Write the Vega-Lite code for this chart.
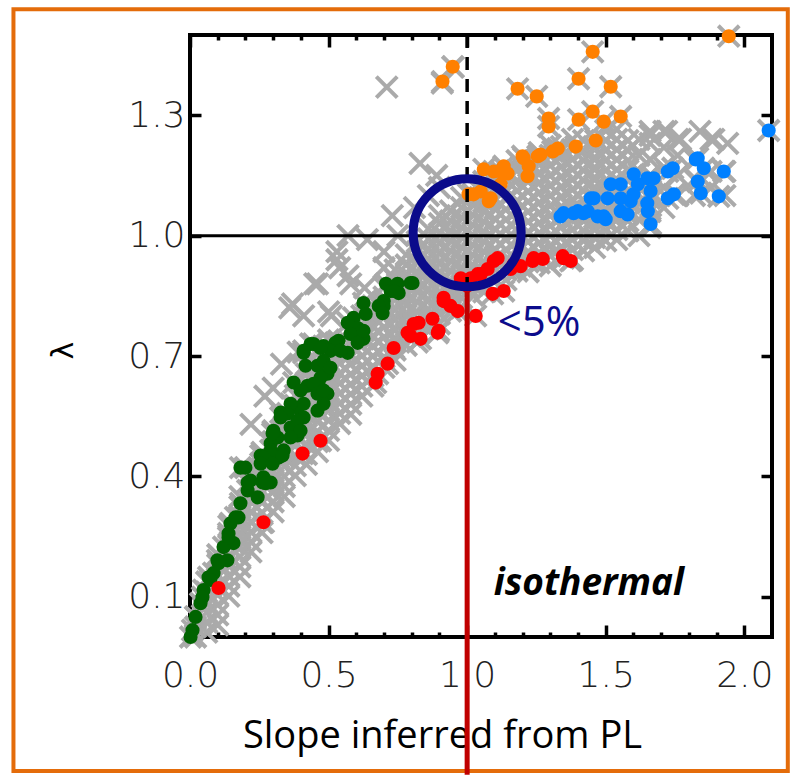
{
"$schema":"https://vega.github.io/schema/vega-lite/v6.json",
"width":582,"height":602,
"autosize":{"type":"none"},
"padding":{"left":190,"top":35,"right":20,"bottom":138},
"background":"white",
"config":{"view":{"stroke":"black","strokeWidth":4},
"axis":{"domain":false,"grid":false,"tickColor":"black","tickWidth":3.5,"labelFont":"DejaVu Sans","labelFontWeight":200,"labelFontSize":36,"labelColor":"#222222","titleFont":"Open Sans","titleFontWeight":"normal","titleColor":"black"}},
"datasets":{
"frame":[{"x":-0.637,"x2":2.157,"y":1.564,"y2":-0.334}],
"pts":[
{"x":0.02,"y":0},{"x":0.02,"y":0.025},{"x":0.02,"y":0.05},
{"x":0.06,"y":0.012},{"x":0.06,"y":0.037},{"x":0.06,"y":0.062},{"x":0.06,"y":0.087},{"x":0.06,"y":0.112},{"x":0.06,"y":0.137},
{"x":0.10,"y":0.03},{"x":0.10,"y":0.055},{"x":0.10,"y":0.08},{"x":0.10,"y":0.105},{"x":0.10,"y":0.13},{"x":0.10,"y":0.155},{"x":0.10,"y":0.18},{"x":0.10,"y":0.205},
{"x":0.14,"y":0.102},{"x":0.14,"y":0.127},{"x":0.14,"y":0.152},{"x":0.14,"y":0.177},{"x":0.14,"y":0.202},{"x":0.14,"y":0.227},{"x":0.14,"y":0.252},{"x":0.14,"y":0.277},
{"x":0.18,"y":0.15},{"x":0.18,"y":0.175},{"x":0.18,"y":0.2},{"x":0.18,"y":0.225},{"x":0.18,"y":0.25},{"x":0.18,"y":0.275},{"x":0.18,"y":0.3},{"x":0.18,"y":0.325},{"x":0.18,"y":0.35},
{"x":0.22,"y":0.212},{"x":0.22,"y":0.237},{"x":0.22,"y":0.262},{"x":0.22,"y":0.287},{"x":0.22,"y":0.312},{"x":0.22,"y":0.337},{"x":0.22,"y":0.362},{"x":0.22,"y":0.387},{"x":0.22,"y":0.412},
{"x":0.26,"y":0.26},{"x":0.26,"y":0.285},{"x":0.26,"y":0.31},{"x":0.26,"y":0.335},{"x":0.26,"y":0.36},{"x":0.26,"y":0.385},{"x":0.26,"y":0.41},{"x":0.26,"y":0.435},{"x":0.26,"y":0.46},
{"x":0.30,"y":0.312},{"x":0.30,"y":0.337},{"x":0.30,"y":0.362},{"x":0.30,"y":0.387},{"x":0.30,"y":0.412},{"x":0.30,"y":0.437},{"x":0.30,"y":0.462},{"x":0.30,"y":0.487},{"x":0.30,"y":0.512},
{"x":0.34,"y":0.35},{"x":0.34,"y":0.375},{"x":0.34,"y":0.4},{"x":0.34,"y":0.425},{"x":0.34,"y":0.45},{"x":0.34,"y":0.475},{"x":0.34,"y":0.5},{"x":0.34,"y":0.525},{"x":0.34,"y":0.55},
{"x":0.38,"y":0.402},{"x":0.38,"y":0.427},{"x":0.38,"y":0.452},{"x":0.38,"y":0.477},{"x":0.38,"y":0.502},{"x":0.38,"y":0.527},{"x":0.38,"y":0.552},{"x":0.38,"y":0.577},{"x":0.38,"y":0.602},
{"x":0.42,"y":0.43},{"x":0.42,"y":0.455},{"x":0.42,"y":0.48},{"x":0.42,"y":0.505},{"x":0.42,"y":0.53},{"x":0.42,"y":0.555},{"x":0.42,"y":0.58},{"x":0.42,"y":0.605},{"x":0.42,"y":0.63},{"x":0.42,"y":0.655},{"x":0.42,"y":0.68},
{"x":0.46,"y":0.462},{"x":0.46,"y":0.487},{"x":0.46,"y":0.512},{"x":0.46,"y":0.537},{"x":0.46,"y":0.562},{"x":0.46,"y":0.587},{"x":0.46,"y":0.612},{"x":0.46,"y":0.637},{"x":0.46,"y":0.662},{"x":0.46,"y":0.687},{"x":0.46,"y":0.712},
{"x":0.50,"y":0.49},{"x":0.50,"y":0.515},{"x":0.50,"y":0.54},{"x":0.50,"y":0.565},{"x":0.50,"y":0.59},{"x":0.50,"y":0.615},{"x":0.50,"y":0.64},{"x":0.50,"y":0.665},{"x":0.50,"y":0.69},{"x":0.50,"y":0.715},{"x":0.50,"y":0.74},
{"x":0.54,"y":0.532},{"x":0.54,"y":0.557},{"x":0.54,"y":0.582},{"x":0.54,"y":0.607},{"x":0.54,"y":0.632},{"x":0.54,"y":0.657},{"x":0.54,"y":0.682},{"x":0.54,"y":0.707},{"x":0.54,"y":0.732},
{"x":0.58,"y":0.555},{"x":0.58,"y":0.58},{"x":0.58,"y":0.605},{"x":0.58,"y":0.63},{"x":0.58,"y":0.655},{"x":0.58,"y":0.68},{"x":0.58,"y":0.705},{"x":0.58,"y":0.73},{"x":0.58,"y":0.755},
{"x":0.62,"y":0.6},{"x":0.62,"y":0.625},{"x":0.62,"y":0.65},{"x":0.62,"y":0.675},{"x":0.62,"y":0.7},{"x":0.62,"y":0.725},{"x":0.62,"y":0.75},{"x":0.62,"y":0.775},{"x":0.62,"y":0.8},
{"x":0.66,"y":0.625},{"x":0.66,"y":0.65},{"x":0.66,"y":0.675},{"x":0.66,"y":0.7},{"x":0.66,"y":0.725},{"x":0.66,"y":0.75},{"x":0.66,"y":0.775},{"x":0.66,"y":0.8},{"x":0.66,"y":0.825},
{"x":0.70,"y":0.672},{"x":0.70,"y":0.697},{"x":0.70,"y":0.722},{"x":0.70,"y":0.747},{"x":0.70,"y":0.772},{"x":0.70,"y":0.797},{"x":0.70,"y":0.822},{"x":0.70,"y":0.847},{"x":0.70,"y":0.872},
{"x":0.74,"y":0.69},{"x":0.74,"y":0.715},{"x":0.74,"y":0.74},{"x":0.74,"y":0.765},{"x":0.74,"y":0.79},{"x":0.74,"y":0.815},{"x":0.74,"y":0.84},{"x":0.74,"y":0.865},{"x":0.74,"y":0.89},{"x":0.74,"y":0.915},
{"x":0.78,"y":0.727},{"x":0.78,"y":0.752},{"x":0.78,"y":0.777},{"x":0.78,"y":0.802},{"x":0.78,"y":0.827},{"x":0.78,"y":0.852},{"x":0.78,"y":0.877},{"x":0.78,"y":0.902},{"x":0.78,"y":0.927},{"x":0.78,"y":0.952},
{"x":0.82,"y":0.735},{"x":0.82,"y":0.76},{"x":0.82,"y":0.785},{"x":0.82,"y":0.81},{"x":0.82,"y":0.835},{"x":0.82,"y":0.86},{"x":0.82,"y":0.885},{"x":0.82,"y":0.91},{"x":0.82,"y":0.935},{"x":0.82,"y":0.96},{"x":0.82,"y":0.985},
{"x":0.86,"y":0.767},{"x":0.86,"y":0.792},{"x":0.86,"y":0.817},{"x":0.86,"y":0.842},{"x":0.86,"y":0.867},{"x":0.86,"y":0.892},{"x":0.86,"y":0.917},{"x":0.86,"y":0.942},{"x":0.86,"y":0.967},{"x":0.86,"y":0.992},{"x":0.86,"y":1.017},
{"x":0.90,"y":0.78},{"x":0.90,"y":0.805},{"x":0.90,"y":0.83},{"x":0.90,"y":0.855},{"x":0.90,"y":0.88},{"x":0.90,"y":0.905},{"x":0.90,"y":0.93},{"x":0.90,"y":0.955},{"x":0.90,"y":0.98},{"x":0.90,"y":1.005},{"x":0.90,"y":1.03},{"x":0.90,"y":1.05},
{"x":0.94,"y":0.812},{"x":0.94,"y":0.837},{"x":0.94,"y":0.862},{"x":0.94,"y":0.887},{"x":0.94,"y":0.912},{"x":0.94,"y":0.937},{"x":0.94,"y":0.962},{"x":0.94,"y":0.987},{"x":0.94,"y":1.012},{"x":0.94,"y":1.037},{"x":0.94,"y":1.062},
{"x":0.98,"y":0.82},{"x":0.98,"y":0.845},{"x":0.98,"y":0.87},{"x":0.98,"y":0.895},{"x":0.98,"y":0.92},{"x":0.98,"y":0.945},{"x":0.98,"y":0.97},{"x":0.98,"y":0.995},{"x":0.98,"y":1.02},{"x":0.98,"y":1.045},{"x":0.98,"y":1.07},{"x":0.98,"y":1.095},
{"x":1.02,"y":0.852},{"x":1.02,"y":0.877},{"x":1.02,"y":0.902},{"x":1.02,"y":0.927},{"x":1.02,"y":0.952},{"x":1.02,"y":0.977},{"x":1.02,"y":1.002},{"x":1.02,"y":1.027},{"x":1.02,"y":1.052},{"x":1.02,"y":1.077},{"x":1.02,"y":1.102},
{"x":1.06,"y":0.86},{"x":1.06,"y":0.885},{"x":1.06,"y":0.91},{"x":1.06,"y":0.935},{"x":1.06,"y":0.96},{"x":1.06,"y":0.985},{"x":1.06,"y":1.01},{"x":1.06,"y":1.035},{"x":1.06,"y":1.06},{"x":1.06,"y":1.085},{"x":1.06,"y":1.11},{"x":1.06,"y":1.135},
{"x":1.10,"y":0.892},{"x":1.10,"y":0.917},{"x":1.10,"y":0.942},{"x":1.10,"y":0.967},{"x":1.10,"y":0.992},{"x":1.10,"y":1.017},{"x":1.10,"y":1.042},{"x":1.10,"y":1.067},{"x":1.10,"y":1.092},{"x":1.10,"y":1.117},{"x":1.10,"y":1.142},
{"x":1.14,"y":0.89},{"x":1.14,"y":0.915},{"x":1.14,"y":0.94},{"x":1.14,"y":0.965},{"x":1.14,"y":0.99},{"x":1.14,"y":1.015},{"x":1.14,"y":1.04},{"x":1.14,"y":1.065},{"x":1.14,"y":1.09},{"x":1.14,"y":1.115},{"x":1.14,"y":1.14},{"x":1.14,"y":1.165},
{"x":1.18,"y":0.912},{"x":1.18,"y":0.937},{"x":1.18,"y":0.962},{"x":1.18,"y":0.987},{"x":1.18,"y":1.012},{"x":1.18,"y":1.037},{"x":1.18,"y":1.062},{"x":1.18,"y":1.087},{"x":1.18,"y":1.112},{"x":1.18,"y":1.137},{"x":1.18,"y":1.162},{"x":1.18,"y":1.187},
{"x":1.22,"y":0.91},{"x":1.22,"y":0.935},{"x":1.22,"y":0.96},{"x":1.22,"y":0.985},{"x":1.22,"y":1.01},{"x":1.22,"y":1.035},{"x":1.22,"y":1.06},{"x":1.22,"y":1.085},{"x":1.22,"y":1.11},{"x":1.22,"y":1.135},{"x":1.22,"y":1.16},{"x":1.22,"y":1.185},
{"x":1.26,"y":0.932},{"x":1.26,"y":0.957},{"x":1.26,"y":0.982},{"x":1.26,"y":1.007},{"x":1.26,"y":1.032},{"x":1.26,"y":1.057},{"x":1.26,"y":1.082},{"x":1.26,"y":1.107},{"x":1.26,"y":1.132},{"x":1.26,"y":1.157},{"x":1.26,"y":1.182},{"x":1.26,"y":1.207},
{"x":1.30,"y":0.925},{"x":1.30,"y":0.95},{"x":1.30,"y":0.975},{"x":1.30,"y":1.0},{"x":1.30,"y":1.025},{"x":1.30,"y":1.05},{"x":1.30,"y":1.075},{"x":1.30,"y":1.1},{"x":1.30,"y":1.125},{"x":1.30,"y":1.15},{"x":1.30,"y":1.175},{"x":1.30,"y":1.2},{"x":1.30,"y":1.225},
{"x":1.34,"y":0.947},{"x":1.34,"y":0.972},{"x":1.34,"y":0.997},{"x":1.34,"y":1.022},{"x":1.34,"y":1.047},{"x":1.34,"y":1.072},{"x":1.34,"y":1.097},{"x":1.34,"y":1.122},{"x":1.34,"y":1.147},{"x":1.34,"y":1.172},{"x":1.34,"y":1.197},{"x":1.34,"y":1.222},
{"x":1.38,"y":0.94},{"x":1.38,"y":0.965},{"x":1.38,"y":0.99},{"x":1.38,"y":1.015},{"x":1.38,"y":1.04},{"x":1.38,"y":1.065},{"x":1.38,"y":1.09},{"x":1.38,"y":1.115},{"x":1.38,"y":1.14},{"x":1.38,"y":1.165},{"x":1.38,"y":1.19},{"x":1.38,"y":1.215},{"x":1.38,"y":1.24},
{"x":1.42,"y":0.962},{"x":1.42,"y":0.987},{"x":1.42,"y":1.012},{"x":1.42,"y":1.037},{"x":1.42,"y":1.062},{"x":1.42,"y":1.087},{"x":1.42,"y":1.112},{"x":1.42,"y":1.137},{"x":1.42,"y":1.162},{"x":1.42,"y":1.187},{"x":1.42,"y":1.212},{"x":1.42,"y":1.237},
{"x":1.46,"y":0.97},{"x":1.46,"y":0.995},{"x":1.46,"y":1.02},{"x":1.46,"y":1.045},{"x":1.46,"y":1.07},{"x":1.46,"y":1.095},{"x":1.46,"y":1.12},{"x":1.46,"y":1.145},{"x":1.46,"y":1.17},{"x":1.46,"y":1.195},{"x":1.46,"y":1.22},{"x":1.46,"y":1.245},
{"x":1.50,"y":0.987},{"x":1.50,"y":1.012},{"x":1.50,"y":1.037},{"x":1.50,"y":1.062},{"x":1.50,"y":1.087},{"x":1.50,"y":1.112},{"x":1.50,"y":1.137},{"x":1.50,"y":1.162},{"x":1.50,"y":1.187},{"x":1.50,"y":1.212},{"x":1.50,"y":1.237},{"x":1.50,"y":1.262},
{"x":1.54,"y":0.99},{"x":1.54,"y":1.015},{"x":1.54,"y":1.04},{"x":1.54,"y":1.065},{"x":1.54,"y":1.09},{"x":1.54,"y":1.115},{"x":1.54,"y":1.14},{"x":1.54,"y":1.165},{"x":1.54,"y":1.19},{"x":1.54,"y":1.215},{"x":1.54,"y":1.24},{"x":1.54,"y":1.265},
{"x":1.58,"y":1.012},{"x":1.58,"y":1.037},{"x":1.58,"y":1.062},{"x":1.58,"y":1.087},{"x":1.58,"y":1.112},{"x":1.58,"y":1.137},{"x":1.58,"y":1.162},{"x":1.58,"y":1.187},{"x":1.58,"y":1.212},{"x":1.58,"y":1.237},
{"x":1.62,"y":1.0},{"x":1.62,"y":1.04},{"x":1.62,"y":1.08},{"x":1.62,"y":1.12},{"x":1.62,"y":1.16},{"x":1.62,"y":1.2},{"x":1.62,"y":1.24},
{"x":1.66,"y":1.02},{"x":1.66,"y":1.06},{"x":1.66,"y":1.10},{"x":1.66,"y":1.15},{"x":1.66,"y":1.19},{"x":1.66,"y":1.23},{"x":1.66,"y":1.26},
{"x":1.71,"y":1.07},{"x":1.71,"y":1.12},{"x":1.71,"y":1.17},{"x":1.71,"y":1.22},{"x":1.71,"y":1.26},
{"x":1.76,"y":1.1},{"x":1.76,"y":1.15},{"x":1.76,"y":1.2},{"x":1.76,"y":1.24},
{"x":1.82,"y":1.1},{"x":1.82,"y":1.14},{"x":1.82,"y":1.19},
{"x":1.88,"y":1.12},{"x":1.88,"y":1.16},{"x":1.88,"y":1.24},
{"x":1.93,"y":1.1},{"x":1.93,"y":1.16},
{"x":0.71,"y":1.37},{"x":0.91,"y":1.38},{"x":0.95,"y":1.42},{"x":0.83,"y":1.18},{"x":0.89,"y":1.15},{"x":0.73,"y":1.05},{"x":0.64,"y":0.99},{"x":0.70,"y":0.96},{"x":0.53,"y":0.96},{"x":0.46,"y":0.88},{"x":0.54,"y":0.92},{"x":0.58,"y":0.88},{"x":0.37,"y":0.83},{"x":0.41,"y":0.80},{"x":0.50,"y":0.81},{"x":0.63,"y":0.87},{"x":0.70,"y":0.92},{"x":0.75,"y":1.0},{"x":0.81,"y":1.07},{"x":0.86,"y":1.10},{"x":0.90,"y":1.12},{"x":0.27,"y":0.60},{"x":0.22,"y":0.53},{"x":0.39,"y":0.71},{"x":0.36,"y":0.82},{"x":0.45,"y":0.88},{"x":0.51,"y":0.80},{"x":0.57,"y":0.90},{"x":0.53,"y":0.94},{"x":0.57,"y":1.0},{"x":0.33,"y":0.68},{"x":0.30,"y":0.62},
{"x":1.72,"y":1.26},{"x":1.77,"y":1.24},{"x":1.89,"y":1.24},{"x":1.94,"y":1.23},{"x":1.66,"y":1.25},{"x":1.84,"y":1.26},
{"x":0.435,"y":0.73,"c":"g"},{"x":0.41,"y":0.708,"c":"g"},{"x":0.482,"y":0.725,"c":"g"},{"x":0.525,"y":0.733,"c":"g"},{"x":0.569,"y":0.708,"c":"g"},{"x":0.605,"y":0.75,"c":"g"},{"x":0.626,"y":0.743,"c":"g"},{"x":0.417,"y":0.676,"c":"g"},{"x":0.46,"y":0.676,"c":"g"},{"x":0.496,"y":0.656,"c":"g"},{"x":0.374,"y":0.634,"c":"g"},{"x":0.424,"y":0.626,"c":"g"},{"x":0.471,"y":0.619,"c":"g"},{"x":0.496,"y":0.606,"c":"g"},{"x":0.327,"y":0.559,"c":"g"},{"x":0.388,"y":0.571,"c":"g"},{"x":0.41,"y":0.547,"c":"g"},{"x":0.46,"y":0.564,"c":"g"},{"x":0.482,"y":0.581,"c":"g"},{"x":0.301,"y":0.514,"c":"g"},{"x":0.363,"y":0.522,"c":"g"},{"x":0.388,"y":0.502,"c":"g"},{"x":0.291,"y":0.482,"c":"g"},{"x":0.32,"y":0.447,"c":"g"},{"x":0.255,"y":0.452,"c":"g"},{"x":0.2,"y":0.422,"c":"g"},{"x":0.218,"y":0.39,"c":"g"},{"x":0.265,"y":0.398,"c":"g"},{"x":0.291,"y":0.385,"c":"g"},{"x":0.208,"y":0.365,"c":"g"},{"x":0.244,"y":0.348,"c":"g"},{"x":0.182,"y":0.333,"c":"g"},{"x":0.175,"y":0.298,"c":"g"},{"x":0.146,"y":0.283,"c":"g"},{"x":0.139,"y":0.258,"c":"g"},{"x":0.157,"y":0.234,"c":"g"},{"x":0.121,"y":0.224,"c":"g"},{"x":0.099,"y":0.191,"c":"g"},{"x":0.135,"y":0.191,"c":"g"},{"x":0.067,"y":0.149,"c":"g"},{"x":0.085,"y":0.159,"c":"g"},{"x":0.049,"y":0.117,"c":"g"},{"x":0.038,"y":0.084,"c":"g"},{"x":0.02,"y":0.05,"c":"g"},{"x":0.009,"y":0.017,"c":"g"},{"x":0.002,"y":0.0,"c":"g"},
{"x":0.707,"y":0.88,"c":"g"},{"x":0.749,"y":0.88,"c":"g"},{"x":0.803,"y":0.882,"c":"g"},{"x":0.724,"y":0.862,"c":"g"},{"x":0.753,"y":0.857,"c":"g"},{"x":0.699,"y":0.837,"c":"g"},{"x":0.699,"y":0.825,"c":"g"},{"x":0.681,"y":0.825,"c":"g"},{"x":0.695,"y":0.807,"c":"g"},{"x":0.626,"y":0.832,"c":"g"},{"x":0.634,"y":0.805,"c":"g"},{"x":0.59,"y":0.795,"c":"g"},{"x":0.569,"y":0.783,"c":"g"},{"x":0.605,"y":0.77,"c":"g"},{"x":0.579,"y":0.755,"c":"g"},{"x":0.626,"y":0.763,"c":"g"},{"x":0.605,"y":0.733,"c":"g"},{"x":0.536,"y":0.738,"c":"g"},{"x":0.507,"y":0.713,"c":"g"},{"x":0.543,"y":0.713,"c":"g"},{"x":0.446,"y":0.73,"c":"g"},{"x":0.41,"y":0.713,"c":"g"},{"x":0.471,"y":0.72,"c":"g"},{"x":0.482,"y":0.688,"c":"g"},{"x":0.507,"y":0.671,"c":"g"},{"x":0.471,"y":0.646,"c":"g"},{"x":0.446,"y":0.631,"c":"g"},{"x":0.399,"y":0.614,"c":"g"},{"x":0.46,"y":0.606,"c":"g"},{"x":0.482,"y":0.614,"c":"g"},{"x":0.41,"y":0.581,"c":"g"},{"x":0.363,"y":0.581,"c":"g"},{"x":0.352,"y":0.557,"c":"g"},{"x":0.388,"y":0.539,"c":"g"},{"x":0.327,"y":0.547,"c":"g"},{"x":0.316,"y":0.497,"c":"g"},{"x":0.298,"y":0.507,"c":"g"},{"x":0.399,"y":0.514,"c":"g"},{"x":0.363,"y":0.497,"c":"g"},{"x":0.291,"y":0.465,"c":"g"},{"x":0.338,"y":0.465,"c":"g"},{"x":0.265,"y":0.447,"c":"g"},{"x":0.255,"y":0.432,"c":"g"},
{"x":0.182,"y":0.422,"c":"g"},{"x":0.208,"y":0.385,"c":"g"},{"x":0.262,"y":0.385,"c":"g"},{"x":0.164,"y":0.298,"c":"g"},{"x":0.139,"y":0.248,"c":"g"},{"x":0.103,"y":0.184,"c":"g"},{"x":0.074,"y":0.142,"c":"g"},{"x":0.045,"y":0.099,"c":"g"},{"x":0.273,"y":0.383,"c":"g"},{"x":0.298,"y":0.432,"c":"g"},{"x":0.334,"y":0.452,"c":"g"},{"x":0.735,"y":0.862,"c":"g"},{"x":0.796,"y":0.882,"c":"g"},
{"x":0.103,"y":0.122,"c":"r"},{"x":0.265,"y":0.286,"c":"r"},{"x":0.406,"y":0.457,"c":"r"},{"x":0.471,"y":0.489,"c":"r"},{"x":0.67,"y":0.634,"c":"r"},{"x":0.677,"y":0.656,"c":"r"},{"x":0.713,"y":0.681,"c":"r"},{"x":0.735,"y":0.72,"c":"r"},{"x":0.796,"y":0.75,"c":"r"},{"x":0.832,"y":0.743,"c":"r"},{"x":0.894,"y":0.758,"c":"r"},{"x":0.785,"y":0.758,"c":"r"},{"x":0.807,"y":0.78,"c":"r"},{"x":0.825,"y":0.783,"c":"r"},{"x":0.875,"y":0.793,"c":"r"},{"x":0.897,"y":0.763,"c":"r"},{"x":0.915,"y":0.837,"c":"r"},{"x":0.94,"y":0.825,"c":"r"},{"x":0.966,"y":0.812,"c":"r"},{"x":0.977,"y":0.894,"c":"r"},{"x":1.013,"y":0.894,"c":"r"},{"x":1.038,"y":0.904,"c":"r"},{"x":1.049,"y":0.904,"c":"r"},{"x":1.074,"y":0.917,"c":"r"},{"x":1.096,"y":0.937,"c":"r"},{"x":1.11,"y":0.944,"c":"r"},{"x":1.157,"y":0.917,"c":"r"},{"x":1.168,"y":0.929,"c":"r"},{"x":1.193,"y":0.924,"c":"r"},{"x":1.236,"y":0.937,"c":"r"},{"x":1.24,"y":0.944,"c":"r"},{"x":1.273,"y":0.942,"c":"r"},{"x":1.345,"y":0.949,"c":"r"},{"x":1.374,"y":0.937,"c":"r"},{"x":1.348,"y":0.944,"c":"r"},{"x":0.915,"y":0.845,"c":"r"},{"x":1.092,"y":0.855,"c":"r"},{"x":1.132,"y":0.862,"c":"r"},{"x":1.031,"y":0.8,"c":"r"},{"x":1.0,"y":0.875,"c":"r"},
{"x":0.911,"y":1.384,"c":"o"},{"x":0.948,"y":1.421,"c":"o"},{"x":1.06,"y":1.165,"c":"o"},{"x":1.121,"y":1.16,"c":"o"},{"x":1.204,"y":1.193,"c":"o"},{"x":1.265,"y":1.202,"c":"o"},{"x":1.218,"y":1.148,"c":"o"},{"x":1.085,"y":1.093,"c":"o"},{"x":1.182,"y":1.366,"c":"o"},{"x":1.251,"y":1.347,"c":"o"},{"x":1.402,"y":1.391,"c":"o"},{"x":1.518,"y":1.371,"c":"o"},{"x":1.453,"y":1.458,"c":"o"},{"x":1.294,"y":1.292,"c":"o"},{"x":1.294,"y":1.272,"c":"o"},{"x":1.402,"y":1.289,"c":"o"},{"x":1.453,"y":1.309,"c":"o"},{"x":1.493,"y":1.284,"c":"o"},{"x":1.554,"y":1.297,"c":"o"},{"x":1.464,"y":1.237,"c":"o"},{"x":1.392,"y":1.222,"c":"o"},{"x":1.327,"y":1.217,"c":"o"},{"x":1.309,"y":1.21,"c":"o"},{"x":1.2,"y":1.198,"c":"o"},{"x":1.255,"y":1.198,"c":"o"},{"x":1.222,"y":1.173,"c":"o"},{"x":1.132,"y":1.173,"c":"o"},{"x":1.146,"y":1.155,"c":"o"},{"x":1.096,"y":1.16,"c":"o"},{"x":1.121,"y":1.128,"c":"o"},{"x":1.023,"y":1.103,"c":"o"},{"x":1.078,"y":1.086,"c":"o"},{"x":1.944,"y":1.497,"c":"o"},{"x":1.049,"y":1.11,"c":"o"},{"x":1.005,"y":1.103,"c":"o"},
{"x":2.088,"y":1.262,"c":"b"},{"x":1.825,"y":1.19,"c":"b"},{"x":1.854,"y":1.168,"c":"b"},{"x":1.926,"y":1.16,"c":"b"},{"x":1.832,"y":1.135,"c":"b"},{"x":1.843,"y":1.106,"c":"b"},{"x":1.908,"y":1.098,"c":"b"},{"x":1.742,"y":1.168,"c":"b"},{"x":1.724,"y":1.16,"c":"b"},{"x":1.673,"y":1.143,"c":"b"},{"x":1.662,"y":1.111,"c":"b"},{"x":1.724,"y":1.093,"c":"b"},{"x":1.746,"y":1.103,"c":"b"},{"x":1.601,"y":1.153,"c":"b"},{"x":1.616,"y":1.128,"c":"b"},{"x":1.554,"y":1.128,"c":"b"},{"x":1.518,"y":1.128,"c":"b"},{"x":1.446,"y":1.093,"c":"b"},{"x":1.507,"y":1.093,"c":"b"},{"x":1.554,"y":1.093,"c":"b"},{"x":1.59,"y":1.086,"c":"b"},{"x":1.652,"y":1.061,"c":"b"},{"x":1.662,"y":1.029,"c":"b"},{"x":1.554,"y":1.061,"c":"b"},{"x":1.579,"y":1.053,"c":"b"},{"x":1.348,"y":1.056,"c":"b"},{"x":1.384,"y":1.056,"c":"b"},{"x":1.42,"y":1.056,"c":"b"},{"x":1.471,"y":1.048,"c":"b"},{"x":1.5,"y":1.041,"c":"b"},{"x":1.337,"y":1.048,"c":"b"},{"x":1.65,"y":1.143,"c":"b"},{"x":1.6,"y":1.103,"c":"b"},{"x":1.457,"y":1.093,"c":"b"},{"x":1.435,"y":1.061,"c":"b"},{"x":1.399,"y":1.061,"c":"b"},{"x":1.493,"y":1.048,"c":"b"},{"x":1.65,"y":1.081,"c":"b"},{"x":1.832,"y":1.193,"c":"b"}
],
"hline":[{"y":1.0}],
"vline":[{"x":1.0}],
"redline":[{"x":1.0,"y":0.861,"y2":-0.343}],
"ring":[{"x":1.0,"y":1.007}],
"labels":[{"x":1.11,"y":0.75,"t":"<5%"}],
"labels2":[{"x":1.096,"y":0.104,"t":"isothermal"}]
},
"layer":[
{"data":{"name":"frame"},"mark":{"type":"rect","fillOpacity":0,"stroke":"#e46c0a","strokeWidth":4,"clip":false},
 "encoding":{"x":{"field":"x","type":"quantitative","scale":{"domain":[0,2.1],"nice":false,"zero":false},"axis":null},"x2":{"field":"x2"},
 "y":{"field":"y","type":"quantitative","scale":{"domain":[0,1.5],"nice":false,"zero":false},"axis":null},"y2":{"field":"y2"}}},
{"data":{"name":"pts"},"mark":{"type":"point","shape":"M-1,-1L1,1M-1,1L1,-1","filled":false,"stroke":"#aaaaaa","strokeWidth":4,"size":440,"opacity":1},
 "encoding":{
 "x":{"field":"x","type":"quantitative","scale":{"domain":[0,2.1],"nice":false,"zero":false},
  "axis":{"orient":"bottom","values":[0,0.1,0.2,0.3,0.4,0.5,0.6,0.7,0.8,0.9,1.0,1.1,1.2,1.3,1.4,1.5,1.6,1.7,1.8,1.9,2.0],
  "labelExpr":"abs(datum.value*2-round(datum.value*2))<0.001 ? format(datum.value,'.1f') : ''",
  "labelOverlap":false,"labelFlush":false,"labelBaseline":"top","labelPadding":33,
  "tickSize":{"condition":{"test":"abs(datum.value*2-round(datum.value*2))<0.001","value":-12},"value":-5},
  "title":"Slope inferred from PL","titleFontSize":38,"titleX":252,"titleY":110,"titleAlign":"center","titleBaseline":"alphabetic","titleAnchor":null}},
 "y":{"field":"y","type":"quantitative","scale":{"domain":[0,1.5],"nice":false,"zero":false},
  "axis":{"orient":"left","values":[0.1,0.4,0.7,1.0,1.3],"format":".1f","tickSize":-11,"labelPadding":16,
  "title":"λ","titleFont":"DejaVu Sans","titleFontSize":30,"titleX":-127,"titleY":315,"titleAngle":-90,"titleAlign":"center","titleBaseline":"middle"}}}},
{"data":{"name":"pts"},"transform":[{"filter":"isValid(datum.c)"}],
 "mark":{"type":"point","shape":"circle","filled":true,"size":200,"opacity":1},
 "encoding":{
 "x":{"field":"x","type":"quantitative","scale":{"domain":[0,2.1],"nice":false,"zero":false},
  "axis":{"orient":"top","values":[0,0.1,0.2,0.3,0.4,0.5,0.6,0.7,0.8,0.9,1.0,1.1,1.2,1.3,1.4,1.5,1.6,1.7,1.8,1.9,2.0],"labels":false,"title":null,
  "tickSize":{"condition":{"test":"abs(datum.value*2-round(datum.value*2))<0.001","value":-12},"value":-5}}},
 "y":{"field":"y","type":"quantitative","scale":{"domain":[0,1.5],"nice":false,"zero":false},
  "axis":{"orient":"right","values":[0.1,0.4,0.7,1.0,1.3],"labels":false,"title":null,"tickSize":-11}},
 "color":{"field":"c","type":"nominal","scale":{"domain":["g","r","o","b"],"range":["#006400","#ff0000","#ff8000","#0080ff"]},"legend":null}}},
{"data":{"name":"hline"},"mark":{"type":"rule","color":"black","strokeWidth":3},
 "encoding":{"y":{"field":"y","type":"quantitative","scale":{"domain":[0,1.5],"nice":false,"zero":false},"axis":null}}},
{"data":{"name":"vline"},"mark":{"type":"rule","color":"black","strokeWidth":3.5,"strokeDash":[13,9]},
 "encoding":{"x":{"field":"x","type":"quantitative","scale":{"domain":[0,2.1],"nice":false,"zero":false},"axis":null}}},
{"data":{"name":"ring"},"mark":{"type":"point","shape":"circle","filled":false,"stroke":"#0b0b8b","strokeWidth":9,"size":11664,"opacity":1},
 "encoding":{"x":{"field":"x","type":"quantitative","scale":{"domain":[0,2.1],"nice":false,"zero":false},"axis":null},
 "y":{"field":"y","type":"quantitative","scale":{"domain":[0,1.5],"nice":false,"zero":false},"axis":null}}},
{"data":{"name":"redline"},"mark":{"type":"rule","color":"#c00000","strokeWidth":5,"clip":false},
 "encoding":{"x":{"field":"x","type":"quantitative","scale":{"domain":[0,2.1],"nice":false,"zero":false},"axis":null},
 "y":{"field":"y","type":"quantitative","scale":{"domain":[0,1.5],"nice":false,"zero":false},"axis":null},"y2":{"field":"y2"}}},
{"data":{"name":"labels"},"mark":{"type":"text","font":"Open Sans","fontSize":42,"color":"#0c0c8c","align":"left","baseline":"alphabetic"},
 "encoding":{"x":{"field":"x","type":"quantitative","scale":{"domain":[0,2.1],"nice":false,"zero":false},"axis":null},
 "y":{"field":"y","type":"quantitative","scale":{"domain":[0,1.5],"nice":false,"zero":false},"axis":null},"text":{"field":"t"}}},
{"data":{"name":"labels2"},"mark":{"type":"text","font":"Open Sans","fontSize":37,"fontWeight":"bold","fontStyle":"italic","color":"black","align":"left","baseline":"alphabetic"},
 "encoding":{"x":{"field":"x","type":"quantitative","scale":{"domain":[0,2.1],"nice":false,"zero":false},"axis":null},
 "y":{"field":"y","type":"quantitative","scale":{"domain":[0,1.5],"nice":false,"zero":false},"axis":null},"text":{"field":"t"}}}
],
"resolve":{"axis":{"x":"independent","y":"independent"}}
}
